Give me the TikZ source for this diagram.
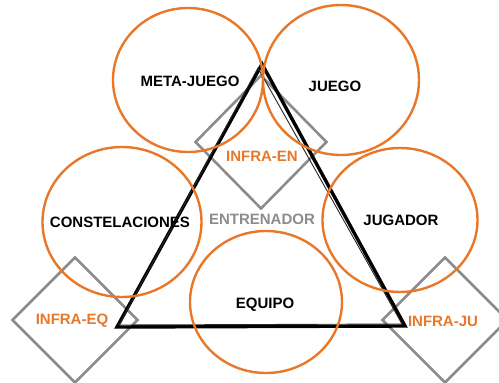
\documentclass[tikz,border=0pt]{standalone}
\usepackage{fontspec}
\setmainfont{Liberation Sans}
\usetikzlibrary{shapes.geometric}
\definecolor{org}{HTML}{E8772A}
\definecolor{gry}{HTML}{8C8C8C}
\tikzset{
  ring/.style={ellipse, draw=org, line width=2.4pt, inner sep=0pt},
  rhomb/.style={diamond, draw=gry, line width=2.6pt, inner sep=0pt, shape aspect=1},
  blk/.style={font=\bfseries\fontsize{15}{17}\selectfont, text=black},
  olab/.style={font=\bfseries\fontsize{15}{17}\selectfont, text=org},
  glab/.style={font=\bfseries\fontsize{15}{17}\selectfont, text=gry},
  tri/.style={draw=black, line width=3.4pt, line join=miter},
  trithin/.style={draw=black!85, line width=0.9pt}
}
\begin{document}
\begin{tikzpicture}[x=1pt,y=-1pt]
\useasboundingbox (0,0) rectangle (499,383);
\clip (0,0) rectangle (499,383);
% diamonds
\node[rhomb, minimum width=132pt, minimum height=134pt] (den) at (261,142) {};
\node[rhomb, minimum width=126pt, minimum height=126pt] (deq) at (75,320) {};
\node[rhomb, minimum width=126pt, minimum height=126pt] (dju) at (445,320) {};
% triangle
\coordinate (apex) at (262,64);
\coordinate (bl) at (117,327);
\coordinate (br) at (405,326);
\draw[tri] (apex) -- (bl) -- (br) -- cycle;
\coordinate (apexb) at (258,68);
\coordinate (blb) at (119,325);
\coordinate (brb) at (402,324);
\draw[trithin] (apexb) -- (blb) -- (brb) -- cycle;
% circles
\node[ring, minimum width=150pt, minimum height=144pt] (cmeta) at (188,80) {};
\node[ring, minimum width=156pt, minimum height=150pt] (cjuego) at (341,80) {};
\node[ring, minimum width=159pt, minimum height=150pt] (ccons) at (122,222) {};
\node[ring, minimum width=155pt, minimum height=144pt] (cjug) at (400,220) {};
\node[ring, minimum width=152pt, minimum height=142pt] (cequ) at (266,302) {};
% labels
\node[blk] (lmeta) at (190,81) {META-JUEGO};
\node[blk] (ljuego) at (335,86) {JUEGO};
\node[blk] (lcons) at (120,222) {CONSTELACIONES};
\node[blk] (ljug) at (401,220) {JUGADOR};
\node[blk] (lequ) at (265,305) {EQUIPO};
\node[glab] (lent) at (262,219) {ENTRENADOR};
\node[olab] (len) at (262,156) {INFRA-EN};
\node[olab] (leq) at (72,321) {INFRA-EQ};
\node[olab] (lju) at (443,321) {INFRA-JU};
\end{tikzpicture}
\end{document}
